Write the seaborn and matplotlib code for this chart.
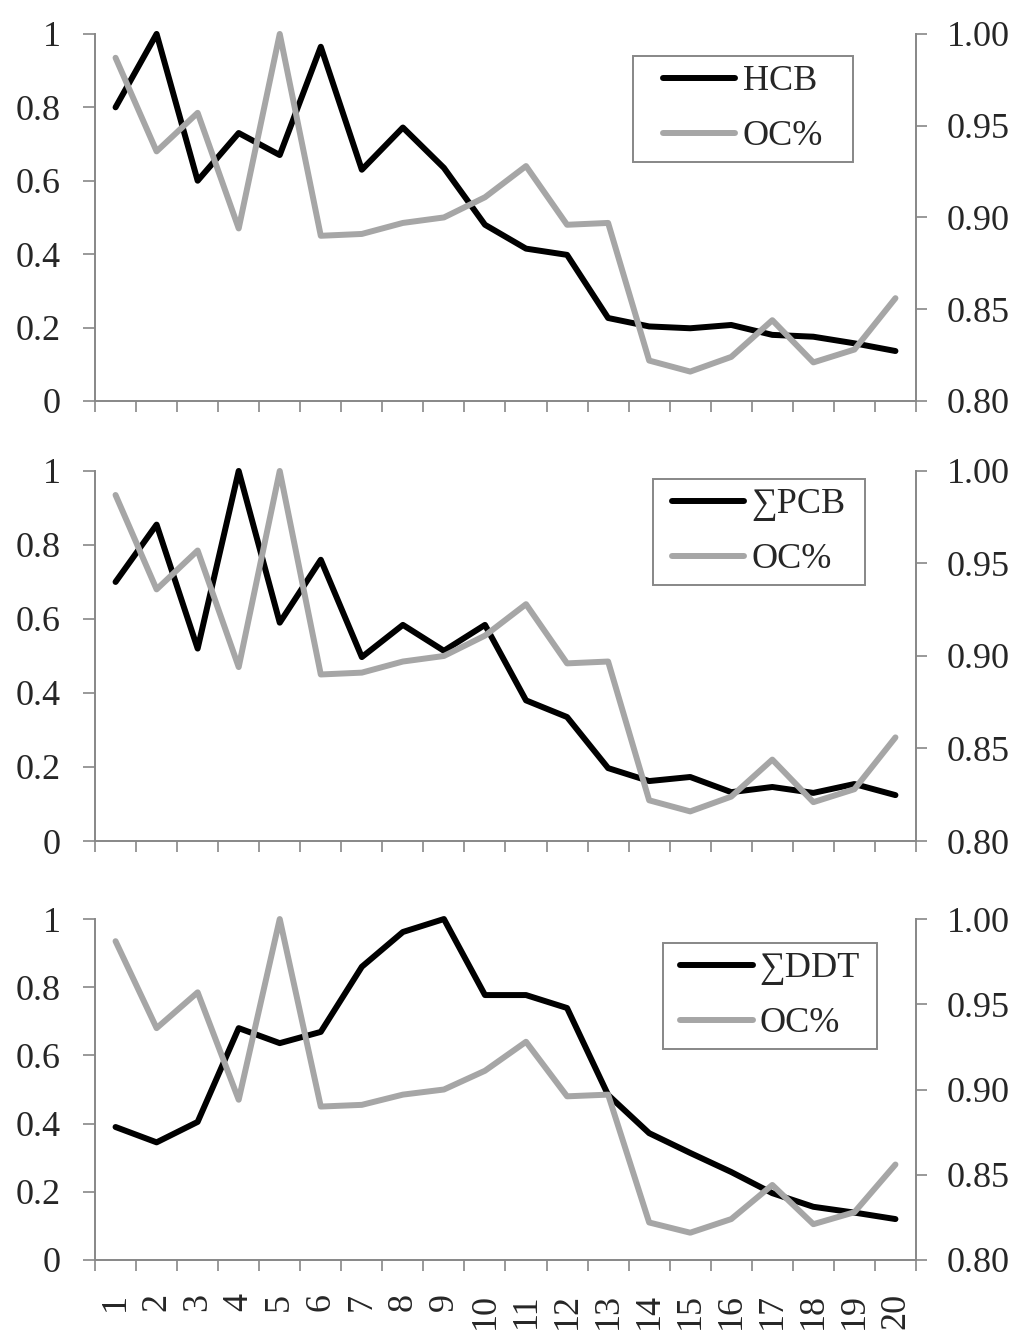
import matplotlib
matplotlib.use("Agg")
import matplotlib.pyplot as plt
from matplotlib.patches import Rectangle
from matplotlib.transforms import IdentityTransform
import seaborn as sns

sites = list(range(1, 21))
oc_pct = [0.987, 0.936, 0.957, 0.894, 1.000, 0.890, 0.891, 0.897, 0.900, 0.911,
          0.928, 0.896, 0.897, 0.822, 0.816, 0.824, 0.844, 0.821, 0.828, 0.856]
hcb = [0.80, 1.00, 0.60, 0.73, 0.67, 0.965, 0.63, 0.745, 0.635, 0.48,
       0.415, 0.398, 0.226, 0.203, 0.198, 0.207, 0.18, 0.175, 0.157, 0.136]
pcb = [0.70, 0.855, 0.52, 1.00, 0.59, 0.76, 0.497, 0.584, 0.514, 0.584,
       0.38, 0.335, 0.197, 0.162, 0.173, 0.132, 0.146, 0.13, 0.154, 0.124]
ddt = [0.39, 0.345, 0.405, 0.68, 0.636, 0.669, 0.86, 0.962, 1.00, 0.777,
       0.777, 0.739, 0.484, 0.372, 0.314, 0.258, 0.196, 0.156, 0.139, 0.12]

left_ticks = [0, 0.2, 0.4, 0.6, 0.8, 1.0]
left_labels = ["0", "0.2", "0.4", "0.6", "0.8", "1"]
right_ticks = [0.80, 0.85, 0.90, 0.95, 1.00]
right_labels = ["0.80", "0.85", "0.90", "0.95", "1.00"]

# name, values, axes rect, legend anchor, extra side padding of legend frame (px)
panels = [
    ("HCB", hcb, [0.0928, 0.6999, 0.8017, 0.2747], (0.681, 0.94), 21),
    ("\u2211PCB", pcb, [0.0928, 0.3705, 0.8017, 0.2770], (0.692, 0.978), 10),
    ("\u2211DDT", ddt, [0.0928, 0.0569, 0.8017, 0.2552], (0.702, 0.93), 8),
]

sns.set_style("white")
plt.rcParams["font.family"] = ["Liberation Serif", "DejaVu Serif"]
plt.rcParams["font.size"] = 26

axis_grey = "#878787"
oc_grey = "#a6a6a6"

fig = plt.figure(figsize=(10.24, 13.36), dpi=100)
legends = []

for i, (name, vals, rect, leg_pos, side_pad) in enumerate(panels):
    ax = fig.add_axes(rect)
    ax2 = ax.twinx()

    sns.lineplot(x=sites, y=vals, ax=ax, color="black", lw=4.3, clip_on=False)
    sns.lineplot(x=sites, y=oc_pct, ax=ax2, color=oc_grey, lw=4.3, clip_on=False)

    ax.set_xlim(0.5, 20.5)
    ax.set_ylim(0, 1)
    ax2.set_ylim(0.8, 1.0)

    ax.set_yticks(left_ticks)
    ax.set_yticklabels(left_labels)
    ax2.set_yticks(right_ticks)
    ax2.set_yticklabels(right_labels)

    ax.set_xticks([s - 0.5 for s in sites] + [20.5])
    ax.set_xticklabels([])
    ax.set_xticks(sites, minor=True)
    if i == 2:
        ax.set_xticklabels([str(s) for s in sites], minor=True, rotation=90)
    else:
        ax.set_xticklabels([], minor=True)

    ax.tick_params(axis="x", which="major", length=8, width=1.2, color=axis_grey,
                   direction="out", bottom=True)
    ax.tick_params(axis="x", which="minor", length=0, pad=24, bottom=True)
    ax.tick_params(axis="y", length=8.5, width=1.2, color=axis_grey, direction="out",
                   pad=16, left=True)
    ax2.tick_params(axis="y", length=8, width=1.2, color=axis_grey, direction="out",
                    pad=14, right=True)

    ax.set_xlabel("")
    ax.set_ylabel("")
    ax2.set_ylabel("")

    for a in (ax, ax2):
        a.spines["top"].set_visible(False)
        for s in ("left", "right", "bottom"):
            a.spines[s].set_color(axis_grey)
            a.spines[s].set_linewidth(1.4)
    ax.spines["right"].set_visible(False)
    ax2.spines["left"].set_visible(False)
    ax2.spines["bottom"].set_visible(False)

    handles = [ax.get_lines()[0], ax2.get_lines()[0]]
    leg = ax2.legend(handles, [name, "OC%"], loc="upper left", bbox_to_anchor=leg_pos,
                     frameon=False, handlelength=2.0, handletextpad=0.2,
                     labelspacing=0.6, borderpad=0.25, borderaxespad=0, fontsize=26)
    legends.append((leg, side_pad))

# legend frames: side padding differs from top/bottom padding
fig.canvas.draw()
renderer = fig.canvas.get_renderer()
for leg, side_pad in legends:
    bb = leg.get_window_extent(renderer)
    frame = Rectangle((bb.x0 - side_pad, bb.y0), bb.width + 2 * side_pad, bb.height,
                      transform=IdentityTransform(), fill=False,
                      edgecolor=axis_grey, linewidth=1.4)
    fig.add_artist(frame)

fig.savefig("out.png", dpi=100)
